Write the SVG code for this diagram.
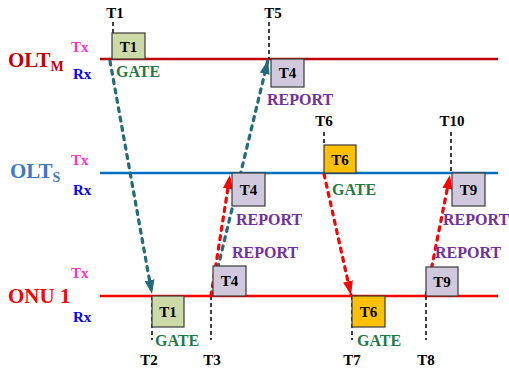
<svg xmlns="http://www.w3.org/2000/svg" width="509" height="371" viewBox="0 0 509 371">
<style>
.lbl{font-family:"Liberation Serif","Times New Roman",serif;font-weight:bold}
.t{font-size:15px;fill:#000;text-anchor:middle}
.tx{font-size:15px;fill:#ff33cc}
.rx{font-size:15px;fill:#0000ff}
.gate{font-size:16px;fill:#1e7a46}
.rep{font-size:16px;fill:#7030a0}
.vd{stroke:#000;stroke-width:1.5;stroke-dasharray:4 3;fill:none}
.box{stroke:#3a3a3a;stroke-width:1.2}
.teal{stroke:#236a7c;stroke-width:3.2;stroke-dasharray:4 5.5;stroke-linecap:round;fill:none}
.red{stroke:#ff0000;stroke-width:3.2;stroke-dasharray:4 5.5;stroke-linecap:round;fill:none}
</style>
<defs>
<marker id="ahT" markerUnits="userSpaceOnUse" markerWidth="16" markerHeight="12" refX="14" refY="5" orient="auto" viewBox="0 0 16 10">
<path d="M0,0 L14,5 L0,10 Z" fill="#236a7c"/>
</marker>
<marker id="ahR" markerUnits="userSpaceOnUse" markerWidth="16" markerHeight="12" refX="14" refY="5" orient="auto" viewBox="0 0 16 10">
<path d="M0,0 L14,5 L0,10 Z" fill="#ff0000"/>
</marker>
</defs>
<rect width="509" height="371" fill="#fff"/>

<g id="olt-m">
<line x1="100" y1="59" x2="498" y2="59" stroke="#c00000" stroke-width="2.5"/>
<text class="lbl" x="8" y="67" font-size="21" fill="#c00000">OLT<tspan font-size="14" dy="4">M</tspan></text>
<text class="lbl tx" x="71" y="52">Tx</text>
<text class="lbl rx" x="73" y="79">Rx</text>
</g>

<g id="olt-s">
<line x1="100" y1="173" x2="498" y2="173" stroke="#0070c0" stroke-width="2.5"/>
<text class="lbl" x="10" y="178" font-size="21" fill="#3c78c4">OLT<tspan font-size="14" dy="4">S</tspan></text>
<text class="lbl tx" x="71" y="165">Tx</text>
<text class="lbl rx" x="73" y="195">Rx</text>
</g>

<g id="onu1">
<line x1="100" y1="296" x2="498" y2="296" stroke="#ff0000" stroke-width="2.5"/>
<text class="lbl" x="8" y="303" font-size="21" fill="#ff0000">ONU 1</text>
<text class="lbl tx" x="71" y="278">Tx</text>
<text class="lbl rx" x="73" y="322">Rx</text>
</g>

<g id="time-markers">
<line class="vd" x1="113" y1="22" x2="113" y2="59"/>
<text class="lbl t" x="115" y="18">T1</text>
<line class="vd" x1="269" y1="22" x2="269" y2="59"/>
<text class="lbl t" x="273" y="18">T5</text>
<line class="vd" x1="324" y1="132" x2="324" y2="145"/>
<text class="lbl t" x="324" y="126">T6</text>
<line class="vd" x1="451" y1="132" x2="451" y2="173"/>
<text class="lbl t" x="452" y="126">T10</text>
<line class="vd" x1="152" y1="296" x2="152" y2="340"/>
<text class="lbl t" x="149" y="365">T2</text>
<line class="vd" x1="211" y1="296" x2="211" y2="340"/>
<text class="lbl t" x="212" y="365">T3</text>
<line class="vd" x1="352" y1="296" x2="352" y2="340"/>
<text class="lbl t" x="352" y="365">T7</text>
<line class="vd" x1="426" y1="296" x2="426" y2="340"/>
<text class="lbl t" x="426" y="365">T8</text>
</g>

<g id="connectors">
<line class="teal" x1="110" y1="61" x2="152" y2="294" marker-end="url(#ahT)"/>
<line class="teal" x1="211" y1="296" x2="268" y2="60" marker-end="url(#ahT)"/>
<line class="red" x1="211" y1="296" x2="230" y2="175" marker-end="url(#ahR)"/>
<line class="red" x1="324" y1="174" x2="351" y2="295" marker-end="url(#ahR)"/>
<line class="red" x1="426" y1="296" x2="450" y2="175" marker-end="url(#ahR)"/>
</g>

<g id="olt-m-t1">
<rect class="box" x="112" y="33" width="33" height="26" fill="#cdd9a6"/>
<text class="lbl t" x="128.5" y="52">T1</text>
<text class="lbl gate" x="116" y="77">GATE</text>
</g>
<g id="olt-m-t4">
<rect class="box" x="271" y="59" width="33" height="28" fill="#d0c8dc"/>
<text class="lbl t" x="287.5" y="78">T4</text>
<text class="lbl rep" x="267" y="105">REPORT</text>
</g>
<g id="olt-s-t6">
<rect class="box" x="324" y="145" width="32" height="28" fill="#ffc000"/>
<text class="lbl t" x="340" y="165">T6</text>
<text class="lbl gate" x="332" y="195">GATE</text>
</g>
<g id="olt-s-t4">
<rect class="box" x="232" y="173" width="33" height="33" fill="#d0c8dc"/>
<text class="lbl t" x="248.5" y="195">T4</text>
<text class="lbl rep" x="236" y="225">REPORT</text>
</g>
<g id="olt-s-t9">
<rect class="box" x="452" y="173" width="33" height="33" fill="#d0c8dc"/>
<text class="lbl t" x="468.5" y="195">T9</text>
<text class="lbl rep" x="443" y="225">REPORT</text>
</g>
<g id="onu-t1">
<rect class="box" x="152" y="296" width="32" height="31" fill="#cdd9a6"/>
<text class="lbl t" x="168" y="317">T1</text>
<text class="lbl gate" x="155" y="346">GATE</text>
</g>
<g id="onu-t4">
<rect class="box" x="213" y="266" width="33" height="30" fill="#d0c8dc"/>
<text class="lbl t" x="229.5" y="286">T4</text>
<text class="lbl rep" x="232" y="258">REPORT</text>
</g>
<g id="onu-t6">
<rect class="box" x="352" y="296" width="33" height="31" fill="#ffc000"/>
<text class="lbl t" x="368.5" y="317">T6</text>
<text class="lbl gate" x="357" y="346">GATE</text>
</g>
<g id="onu-t9">
<rect class="box" x="426" y="267" width="32" height="29" fill="#d0c8dc"/>
<text class="lbl t" x="442" y="287">T9</text>
<text class="lbl rep" x="435" y="258">REPORT</text>
</g>
</svg>
